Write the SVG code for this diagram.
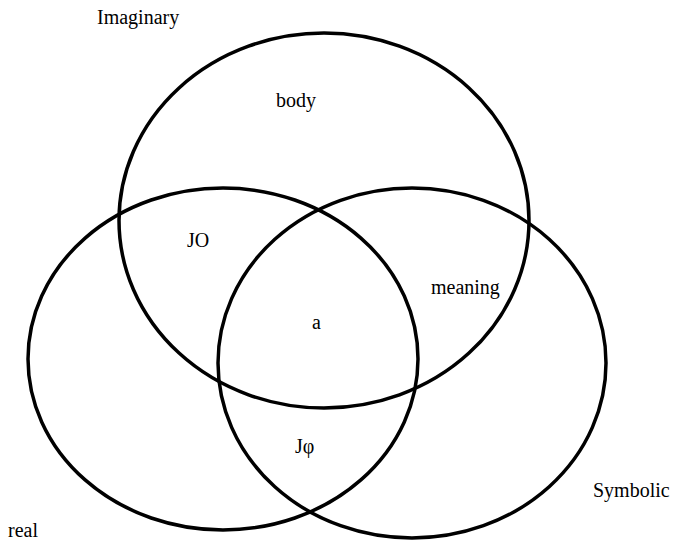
<svg xmlns="http://www.w3.org/2000/svg" width="673" height="540" viewBox="0 0 673 540">
<style>
.ring{fill:none;stroke:#000;stroke-width:3.5}
.lbl{font-family:"Liberation Serif","Times New Roman",serif;font-size:20px;fill:#000}
</style>
<rect width="673" height="540" fill="#fff"/>
<g id="imaginary">
<ellipse class="ring" cx="324" cy="220.5" rx="205" ry="187.5"/>
<text class="lbl" x="97" y="24">Imaginary</text>
</g>
<g id="real">
<ellipse class="ring" cx="223" cy="359" rx="195" ry="171"/>
<text class="lbl" x="8" y="537">real</text>
</g>
<g id="symbolic">
<ellipse class="ring" cx="412" cy="363" rx="194" ry="175"/>
<text class="lbl" x="593" y="497">Symbolic</text>
</g>
<g id="regions">
<text class="lbl" x="276" y="107">body</text>
<text class="lbl" x="187" y="247">JO</text>
<text class="lbl" x="431" y="294">meaning</text>
<text class="lbl" x="312" y="329">a</text>
<text class="lbl" x="295" y="453">Jφ</text>
</g>
<g id="connectors"></g>
</svg>
